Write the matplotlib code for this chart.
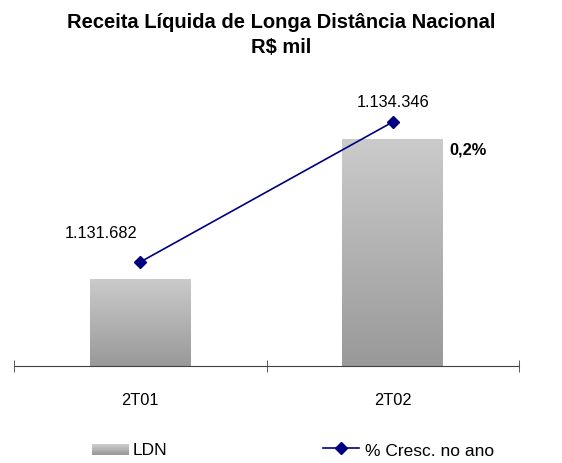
import matplotlib
matplotlib.use("Agg")
import matplotlib.pyplot as plt
import numpy as np
from matplotlib.patches import Rectangle
from matplotlib.lines import Line2D
from matplotlib.legend_handler import HandlerBase

plt.rcParams['font.family'] = ['Liberation Sans', 'DejaVu Sans']

categories = ["2T01", "2T02"]
ldn_values = [1131682, 1134346]
line_values = [1131682, 1134346]
value_labels = ["1.131.682", "1.134.346"]
growth_label = "0,2%"
title = "Receita Líquida de Longa Distância Nacional\nR$ mil"
legend_labels = ["LDN", "% Cresc. no ano"]

fig = plt.figure(figsize=(5.62, 4.64), dpi=100)
ax = fig.add_axes([14/562, 1-367/464, 505/562, 287/464])
ax2 = ax.twinx()

x = np.arange(len(categories))
bw = 0.4
ymin, ymax = 1130026, 1135487

grad = np.linspace(0, 1, 256).reshape(-1, 1)
cmap = matplotlib.colors.LinearSegmentedColormap.from_list("g", ["#999999", "#cbcbcb"])
bars = ax.bar(x, [v - ymin for v in ldn_values], bottom=ymin, width=bw, color="none", edgecolor="none")
for b in bars:
    xx, yy = b.get_x(), b.get_y()
    w, h = b.get_width(), b.get_height()
    im = ax.imshow(grad, extent=[xx, xx + w, yy, yy + h], origin="lower",
                   cmap=cmap, aspect="auto", zorder=2)
    im.set_clip_path(b)
ax.set_xlim(-0.5, 1.5)
ax.set_ylim(ymin, ymax)

ymin2 = 1129703
ax2.set_ylim(ymin2, ymin2 + (ymax - ymin))
ax2.plot(x, line_values, color="#000080", lw=1.2, marker="D", ms=6, zorder=3)
ax2.annotate(value_labels[0], (x[0], line_values[0]), xytext=(-28, 21), textcoords="offset points",
             ha="center", va="center", fontsize=11.8)
ax2.annotate(value_labels[1], (x[1], line_values[1]), xytext=(0, 14.5), textcoords="offset points",
             ha="center", va="center", fontsize=11.8)
ax.annotate(growth_label, (x[1] + bw/2, ldn_values[1]), xytext=(18, -7), textcoords="offset points",
            ha="center", va="center", fontsize=11.8, fontweight="bold")

for a in (ax, ax2):
    for s in ("top", "right", "left"):
        a.spines[s].set_visible(False)
ax2.spines["bottom"].set_visible(False)
ax.spines["bottom"].set_color("#404040")
ax.set_yticks([])
ax2.set_yticks([])
ax.set_xticks(x)
ax.set_xticklabels(categories, fontsize=11.8)
ax.tick_params(axis="x", which="major", length=0, pad=18.5)
ax.set_xticks([-0.5, 0.5, 1.5], minor=True)
ax.tick_params(axis="x", which="minor", direction="inout", length=8, color="#404040")

fig.text(0.5, 1 - 35/464, title, ha="center", va="center", fontsize=14.5, fontweight="bold",
         linespacing=1.38)

class GradHandler(HandlerBase):
    def create_artists(self, legend, orig, xd, yd, w, h, fs, trans):
        arts = []
        n = 8
        for i in range(n):
            c = cmap(i / (n - 1))
            r = Rectangle((xd, yd + h * i / n), w, h / n + 0.3, facecolor=c, edgecolor="none",
                          transform=trans)
            arts.append(r)
        return arts

bar_handle = Rectangle((0, 0), 1, 1)
line_handle = Line2D([], [], color="#000080", marker="D", ms=6, lw=1.2)
leg1 = fig.legend([bar_handle], legend_labels[:1], handler_map={bar_handle: GradHandler()},
                  loc="center left", bbox_to_anchor=(92/562, 1 - 451/464), frameon=False,
                  fontsize=12.5, handlelength=2.13, handleheight=0.6, handletextpad=0.23,
                  borderpad=0, borderaxespad=0)
leg2 = fig.legend([line_handle], legend_labels[1:], loc="center left",
                  bbox_to_anchor=(323/562, 1 - 451/464), frameon=False,
                  fontsize=12.5, handlelength=2.1, handletextpad=0.3,
                  borderpad=0, borderaxespad=0)

fig.savefig("out.png", dpi=100)
